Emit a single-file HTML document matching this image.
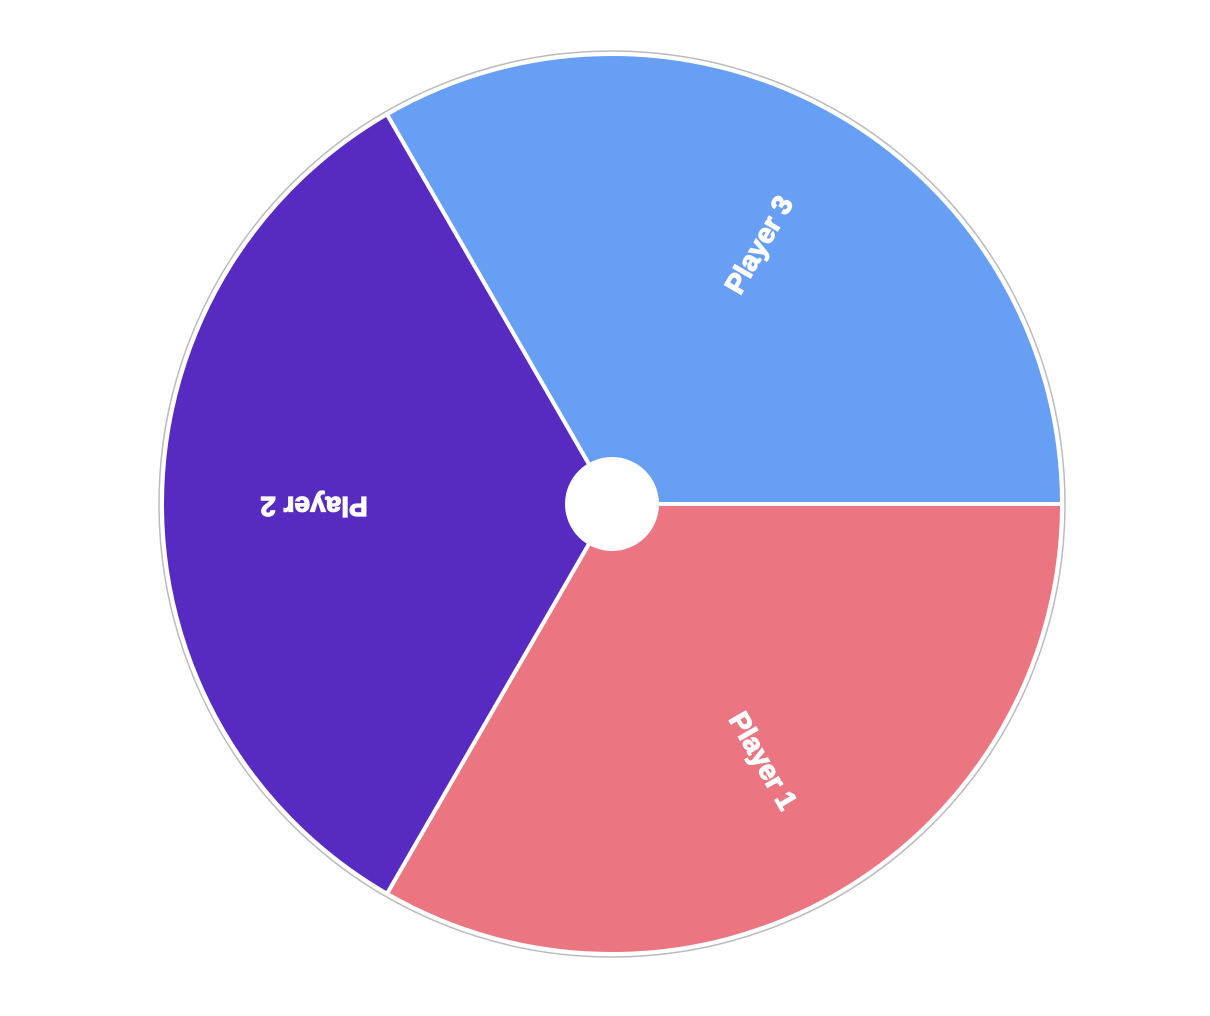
<!DOCTYPE html>
<html><head><meta charset="utf-8"><style>
html,body{margin:0;padding:0;background:#fff;width:1210px;height:1016px;overflow:hidden}
</style></head><body>
<svg id="chart" width="1210" height="1016" viewBox="0 0 1210 1016" xmlns="http://www.w3.org/2000/svg">
<circle cx="612" cy="504" r="453" fill="#fff" stroke="#bbb" stroke-width="1.5"/>
<g id="slices"></g>
<circle cx="612" cy="504" r="47" fill="#fff"/>
</svg>
<script>
const labels = ["Player 1", "Player 2", "Player 3"];
const values = [1, 1, 1];
const colors = ["#ec7582", "#572bc2", "#679ff5"];
const cx = 612, cy = 504, R = 450, labelR = 298;
const ns = "http://www.w3.org/2000/svg";
const g = document.getElementById("slices");
const total = values.reduce((a, b) => a + b, 0);
let start = 0;
values.forEach((v, i) => {
  const sweep = v / total * 2 * Math.PI;
  const end = start + sweep;
  const x1 = cx + R * Math.cos(start), y1 = cy + R * Math.sin(start);
  const x2 = cx + R * Math.cos(end), y2 = cy + R * Math.sin(end);
  const p = document.createElementNS(ns, "path");
  p.setAttribute("d", `M${cx},${cy} L${x1},${y1} A${R},${R} 0 ${sweep > Math.PI ? 1 : 0} 1 ${x2},${y2} Z`);
  p.setAttribute("fill", colors[i]);
  p.setAttribute("stroke", "#fff");
  p.setAttribute("stroke-width", "4");
  
  
  g.appendChild(p);
  const mid = start + sweep / 2;
  const tx = cx + labelR * Math.cos(mid), ty = cy + labelR * Math.sin(mid);
  const t = document.createElementNS(ns, "text");
  t.setAttribute("x", tx);
  t.setAttribute("y", ty + 7);
  t.setAttribute("text-anchor", "middle");
  t.setAttribute("fill", "#fff");
  t.setAttribute("stroke", "#fff");
  t.setAttribute("stroke-width", "1.2");
  t.setAttribute("style", "font-family:'Liberation Sans','DejaVu Sans',sans-serif;font-weight:700;font-size:28px");
  t.setAttribute("transform", `rotate(${mid * 180 / Math.PI} ${tx} ${ty})`);
  t.textContent = labels[i];
  
  
  g.appendChild(t);
  start = end;
});
</script>
</body></html>
